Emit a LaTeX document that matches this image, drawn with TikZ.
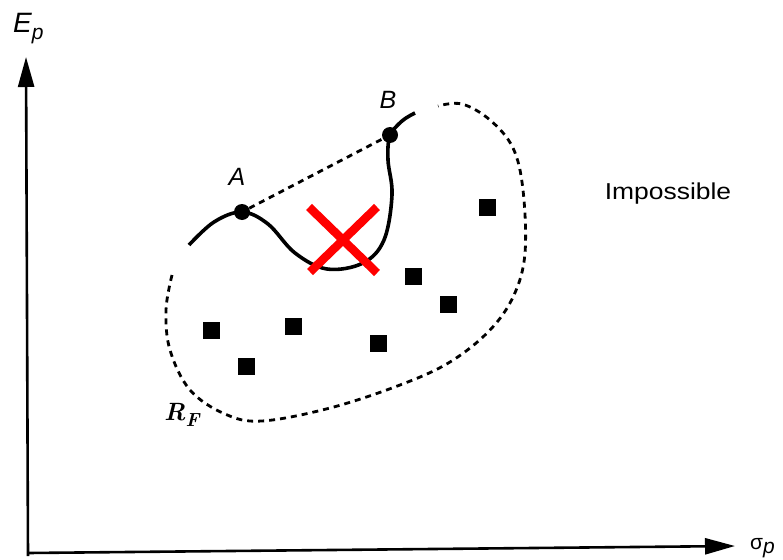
\documentclass[tikz,border=0pt]{standalone}
\usepackage{fontspec}
\newfontfamily\arialfont{Liberation Sans}
\usetikzlibrary{arrows.meta}
\tikzset{
  axis/.style={line width=2.6pt,-{Triangle[length=30pt,width=16pt]}},
  curveline/.style={line width=3.6pt},
  region/.style={line width=2.8pt,dash pattern=on 6pt off 5pt},
  dot/.style={circle,fill=black,inner sep=0pt,minimum size=16pt},
  asset/.style={rectangle,fill=black,inner sep=0pt,minimum size=17pt},
  lbl/.style={font=\arialfont\itshape\fontsize{25}{27}\selectfont,inner sep=0pt},
  cross/.style={red,line width=8.5pt}
}
\begin{document}
\begin{tikzpicture}[x=1pt,y=-1pt]
\useasboundingbox (0,0) rectangle (783,559);
% axes
\coordinate (O) at (28,553);
\coordinate (Ybot) at (28,556);
\coordinate (Ytop) at (26,57);
\coordinate (Xend) at (735,546);
\draw[axis] (Ybot) -- (Ytop);
\draw[axis] (O) -- (Xend);
\node[anchor=base west,inner sep=0pt,font=\arialfont\itshape\fontsize{28}{30}\selectfont] (Ep) at (13,33) {E\raisebox{-7pt}{\fontsize{21}{22}\selectfont p}};
\node[anchor=base west,inner sep=0pt,font=\arialfont\fontsize{21}{22}\selectfont] (sp) at (750,549) {σ\raisebox{-4pt}{\itshape p}};
% feasible region boundary
\draw[region] plot[smooth,tension=0.6] coordinates {(172,275) (166,310) (170,350) (190,390) (225,414) (262,421) (330,408) (400,385) (450,362) (490,330) (514,295) (525,253) (523,190) (513,148) (490,120) (462,104) (438,106)};
% frontier curve
\draw[curveline] plot[smooth,tension=0.6] coordinates {(189,245) (214,222) (242,212) (268,224) (295,253) (327,269) (363,263) (384,240) (392,195) (388,160) (390,136) (402,121) (415,113)};
\node[dot] (A) at (242,212) {};
\node[dot] (B) at (390,135) {};
\draw[region] (A) -- (B);
\node[lbl] at (237,177) {A};
\node[lbl] at (388,100) {B};
% assets
\node[asset] (s1) at (211,330) {};
\node[asset] (s2) at (246,366) {};
\node[asset] (s3) at (293,326) {};
\node[asset] (s4) at (378,343) {};
\node[asset] (s5) at (413,276) {};
\node[asset] (s6) at (448,304) {};
\node[asset] (s7) at (487,207) {};
% red cross
\draw[cross] (309,207) -- (377,273);
\draw[cross] (377,207) -- (310,272);
% labels
\node[anchor=base west,inner sep=0pt,font=\fontsize{25}{27}\selectfont\bfseries\itshape] (RF) at (164,420) {R\raisebox{-6pt}{\fontsize{19}{20}\selectfont F}};
\node[inner sep=0pt,xscale=1.15,font=\arialfont\fontsize{23}{25}\selectfont] (imp) at (668,194) {Impossible};
\end{tikzpicture}
\end{document}
